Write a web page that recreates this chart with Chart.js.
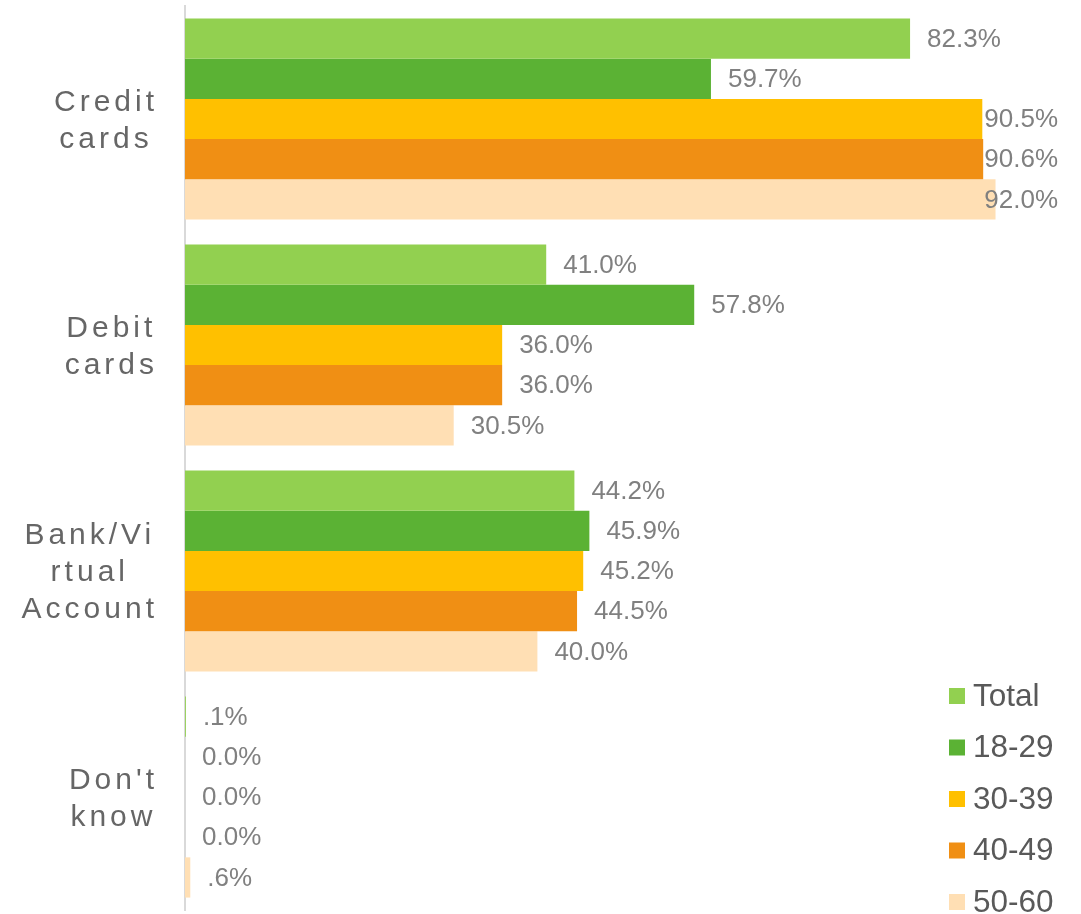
<!DOCTYPE html>
<html>
<head>
<meta charset="utf-8">
<script src="https://cdn.jsdelivr.net/npm/chart.js@4.4.1/dist/chart.umd.min.js"></script>
<style>
  html, body { margin: 0; padding: 0; background: #fff; }
</style>
</head>
<body>
<canvas id="chart" width="1081" height="914"></canvas>
<script>
const categories = [['Credit', 'cards'], ['Debit', 'cards'], ['Bank/Vi', 'rtual', 'Account'], ["Don't", 'know']];
const seriesNames = ['Total', '18-29', '30-39', '40-49', '50-60'];
const seriesColors = ['#92D050', '#5BB234', '#FFC000', '#F08F14', '#FFDFB4'];
const total = [82.3, 41.0, 44.2, 0.1];
const age18to29 = [59.7, 57.8, 45.9, 0.0];
const age30to39 = [90.5, 36.0, 45.2, 0.0];
const age40to49 = [90.6, 36.0, 44.5, 0.0];
const age50to60 = [92.0, 30.5, 40.0, 0.6];
const xMin = 0;
const xMax = 100;

const FONT = '"Liberation Sans", Arial, sans-serif';

function fmt(v) {
	if (v === 0) return '0.0%';
	return v.toFixed(1).replace(/^0\./, '.') + '%';
}

// category names, centred lines, right-aligned block
const categoryLabels = {
	id: 'categoryLabels',
	afterDraw(chart) {
		const ctx = chart.ctx;
		const y = chart.scales.y;
		ctx.save();
		ctx.font = '30px ' + FONT;
		ctx.fillStyle = '#666666';
		ctx.letterSpacing = '4px';
		ctx.textAlign = 'center';
		ctx.textBaseline = 'middle';
		categories.forEach((lines, i) => {
			const cy = y.getPixelForTick(i) + 2;
			const w = Math.max(...lines.map(l => ctx.measureText(l).width));
			const cx = 158 - w / 2;
			lines.forEach((l, j) => {
				ctx.fillText(l, cx, cy + (j - (lines.length - 1) / 2) * 37);
			});
		});
		ctx.restore();
	}
};

const valueLabels = {
	id: 'valueLabels',
	afterDatasetsDraw(chart) {
		const ctx = chart.ctx;
		ctx.save();
		ctx.font = '26px ' + FONT;
		ctx.fillStyle = '#808080';
		ctx.textAlign = 'left';
		ctx.textBaseline = 'middle';
		chart.data.datasets.forEach((ds, di) => {
			chart.getDatasetMeta(di).data.forEach((bar, i) => {
				const text = fmt(ds.data[i]);
				const w = ctx.measureText(text).width;
				const x = Math.min(bar.x + 17, 1058 - w);
				ctx.fillText(text, x, bar.y + 1);
			});
		});
		ctx.restore();
	}
};

const sideLegend = {
	id: 'sideLegend',
	afterDraw(chart) {
		const ctx = chart.ctx;
		const n = chart.data.datasets.length;
		ctx.save();
		ctx.font = '31.5px ' + FONT;
		ctx.textAlign = 'left';
		ctx.textBaseline = 'middle';
		chart.data.datasets.forEach((ds, i) => {
			const cy = chart.chartArea.bottom - 8 - (n - 1 - i) * 51.5;
			ctx.fillStyle = ds.backgroundColor;
			ctx.fillRect(949, cy - 8, 16, 16);
			ctx.fillStyle = '#595959';
			ctx.fillText(ds.label, 973, cy + 1);
		});
		ctx.restore();
	}
};

const seriesValues = [total, age18to29, age30to39, age40to49, age50to60];

new Chart(document.getElementById('chart'), {
	type: 'bar',
	data: {
		labels: categories.map(l => l.join(' ')),
		datasets: seriesNames.map((name, i) => ({
			label: name,
			data: seriesValues[i],
			backgroundColor: seriesColors[i],
			borderWidth: 0,
		})),
	},
	options: {
		responsive: false,
		animation: false,
		indexAxis: 'y',
		layout: { padding: { top: 6, bottom: 4, left: 0, right: 15 } },
		datasets: { bar: { categoryPercentage: 0.89, barPercentage: 1 } },
		plugins: {
			legend: { display: false },
			tooltip: { enabled: false },
		},
		scales: {
			x: { display: false, min: xMin, max: xMax },
			y: {
				grid: { display: false },
				border: { display: true, color: '#D9D9D9', width: 2 },
				ticks: { display: false },
				afterFit(scale) { scale.width = 185; },
			},
		},
	},
	plugins: [categoryLabels, valueLabels, sideLegend],
});
</script>
</body>
</html>
